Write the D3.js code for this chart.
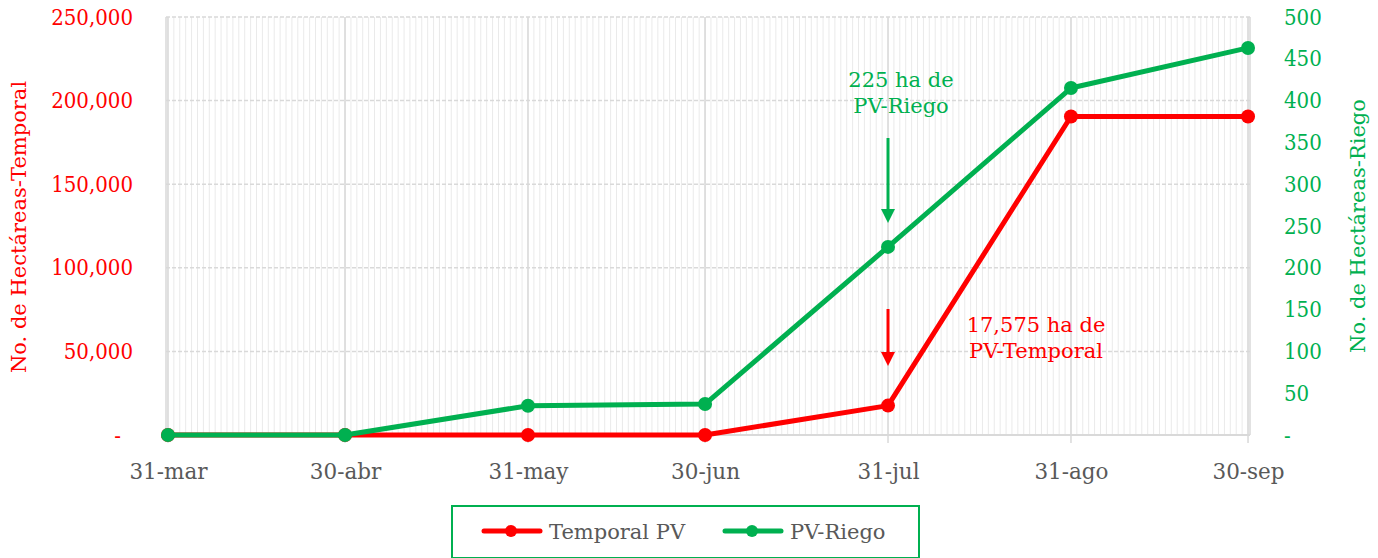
<!DOCTYPE html>
<html>
<head>
<meta charset="utf-8">
<script src="https://cdn.jsdelivr.net/npm/d3@7"></script>
<style>
  body { margin: 0; background: #fff; }
  svg text { font-family: "DejaVu Serif", serif; font-size: 21px; }
  svg .num text { font-family: "DejaVu Serif Condensed", "DejaVu Serif", serif; font-stretch: condensed; font-size: 22px; }
</style>
</head>
<body>
<svg id="chart" width="1378" height="558"></svg>
<script>
// data
var dates = ["2020-03-31", "2020-04-30", "2020-05-31", "2020-06-30", "2020-07-31", "2020-08-31", "2020-09-30"];
var dateLabels = ["31-mar", "30-abr", "31-may", "30-jun", "31-jul", "31-ago", "30-sep"];
var temporal = [0, 0, 0, 0, 17575, 190500, 190500];
var riego = [0, 0, 35, 37, 225, 415, 463];
var leftTicks = [0, 50000, 100000, 150000, 200000, 250000];
var rightTicks = [0, 50, 100, 150, 200, 250, 300, 350, 400, 450, 500];

var RED = "#ff0000", GREEN = "#00b050";

var svg = d3.select("#chart");
var m = {left: 166, right: 1250, top: 17, bottom: 435};

var parse = d3.utcParse("%Y-%m-%d");
var xDates = dates.map(parse);

var x = d3.scaleUtc()
    .domain([d3.utcHour.offset(xDates[0], -8), d3.utcHour.offset(xDates[6], 8)])
    .range([m.left, m.right]);
var yL = d3.scaleLinear().domain([0, 250000]).range([m.bottom, m.top]);
var yR = d3.scaleLinear().domain([0, 500]).range([m.bottom, m.top]);

var grid = svg.append("g");
// daily minor gridlines
grid.selectAll("line.minor")
  .data(d3.utcDay.range(xDates[0], d3.utcDay.offset(xDates[6], 1)))
  .enter().append("line")
    .attr("x1", function(d) { return x(d); }).attr("x2", function(d) { return x(d); })
    .attr("y1", m.top).attr("y2", m.bottom)
    .style("stroke", "#eaeaea").style("stroke-width", 1);
// horizontal dashed
grid.selectAll("line.h")
  .data(leftTicks.slice(1))
  .enter().append("line")
    .attr("x1", m.left).attr("x2", m.right)
    .attr("y1", function(d) { return yL(d); }).attr("y2", function(d) { return yL(d); })
    .style("stroke", "#d9d9d9").style("stroke-width", 1.5).style("stroke-dasharray", "4,2");
// major month gridlines
grid.selectAll("line.major")
  .data(xDates)
  .enter().append("line")
    .attr("x1", function(d) { return x(d); }).attr("x2", function(d) { return x(d); })
    .attr("y1", m.top).attr("y2", m.bottom + 8)
    .style("stroke", "#d9d9d9").style("stroke-width", 1.5);
grid.append("line").attr("x1", m.left).attr("x2", m.left).attr("y1", m.top).attr("y2", m.bottom)
    .style("stroke", "#d9d9d9").style("stroke-width", 1.5);
grid.append("line").attr("x1", m.right).attr("x2", m.right).attr("y1", m.top).attr("y2", m.bottom)
    .style("stroke", "#d9d9d9").style("stroke-width", 1.5);
grid.append("line").attr("x1", m.left).attr("x2", m.right).attr("y1", m.bottom).attr("y2", m.bottom)
    .style("stroke", "#d9d9d9").style("stroke-width", 2);

// axes
var fmt = d3.format(",");
var leftAxis = svg.append("g").attr("class", "num").attr("transform", "translate(" + (m.left - 33) + ",0)")
  .call(d3.axisLeft(yL).tickValues(leftTicks).tickSize(0)
        .tickFormat(function(d) { return d === 0 ? "-" : fmt(d); }));
leftAxis.select(".domain").remove();
leftAxis.selectAll("text").attr("x", 0).style("fill", RED)
  .filter(function(d) { return d === 0; }).attr("x", -12);

var rightAxis = svg.append("g").attr("class", "num").attr("transform", "translate(" + (m.right + 34) + ",0)")
  .call(d3.axisRight(yR).tickValues(rightTicks).tickSize(0)
        .tickFormat(function(d) { return d === 0 ? "-" : d; }));
rightAxis.select(".domain").remove();
rightAxis.selectAll("text").attr("x", 0).style("fill", GREEN);

var xAxis = svg.append("g").attr("transform", "translate(0," + (m.bottom + 26) + ")")
  .call(d3.axisBottom(x).tickValues(xDates).tickSize(0)
        .tickFormat(function(d, i) { return dateLabels[i]; }));
xAxis.select(".domain").remove();
xAxis.selectAll("text").style("fill", "#595959").style("font-size", "21.5px")
  .style("font-family", "DejaVu Serif, serif");

// axis titles
svg.append("text").attr("transform", "translate(26,227) rotate(-90)")
  .attr("text-anchor", "middle").style("fill", RED)
  .text("No. de Hectáreas-Temporal");
svg.append("text").attr("transform", "translate(1365,226) rotate(-90)")
  .attr("text-anchor", "middle").style("fill", GREEN)
  .text("No. de Hectáreas-Riego");

// series
function drawSeries(vals, yScale, color) {
  var line = d3.line()
    .x(function(d, i) { return x(xDates[i]); })
    .y(function(d) { return yScale(d); });
  svg.append("path").datum(vals).attr("d", line)
    .style("fill", "none").style("stroke", color).style("stroke-width", 5)
    .style("stroke-linejoin", "round");
  svg.selectAll(null).data(vals).enter().append("circle")
    .attr("cx", function(d, i) { return x(xDates[i]); })
    .attr("cy", function(d) { return yScale(d); })
    .attr("r", 7).style("fill", color);
}
drawSeries(temporal, yL, RED);
drawSeries(riego, yR, GREEN);

// annotations
function arrow(xp, y1, y2, color) {
  svg.append("line").attr("x1", xp).attr("x2", xp).attr("y1", y1).attr("y2", y2 - 12)
    .style("stroke", color).style("stroke-width", 3);
  svg.append("path")
    .attr("d", "M" + (xp - 7) + "," + (y2 - 14) + "L" + (xp + 7) + "," + (y2 - 14) + "L" + xp + "," + y2 + "Z")
    .style("fill", color);
}
var xJul = x(xDates[4]);
arrow(xJul, 138, 223, GREEN);
arrow(xJul, 309, 366, RED);

var a1 = svg.append("text").attr("text-anchor", "middle").style("fill", GREEN);
a1.append("tspan").attr("x", xJul + 13).attr("y", 87).text("225 ha de");
a1.append("tspan").attr("x", xJul + 13).attr("y", 113).text("PV-Riego");
var a2 = svg.append("text").attr("text-anchor", "middle").style("fill", RED);
a2.append("tspan").attr("x", xJul + 148).attr("y", 332).text("17,575 ha de");
a2.append("tspan").attr("x", xJul + 148).attr("y", 358).text("PV-Temporal");

// legend
var lg = svg.append("g");
lg.append("rect").attr("x", 452).attr("y", 506).attr("width", 467).attr("height", 52)
  .style("fill", "#fff").style("stroke", GREEN).style("stroke-width", 2);
var items = [{name: "Temporal PV", color: RED, x: 484}, {name: "PV-Riego", color: GREEN, x: 725}];
items.forEach(function(it) {
  lg.append("line").attr("x1", it.x).attr("x2", it.x + 56).attr("y1", 531).attr("y2", 531)
    .style("stroke", it.color).style("stroke-width", 5).style("stroke-linecap", "round");
  lg.append("circle").attr("cx", it.x + 27).attr("cy", 531).attr("r", 6).style("fill", it.color);
  lg.append("text").attr("x", it.x + 65).attr("y", 539).style("fill", "#595959")
    .text(it.name);
});
</script>
</body>
</html>
